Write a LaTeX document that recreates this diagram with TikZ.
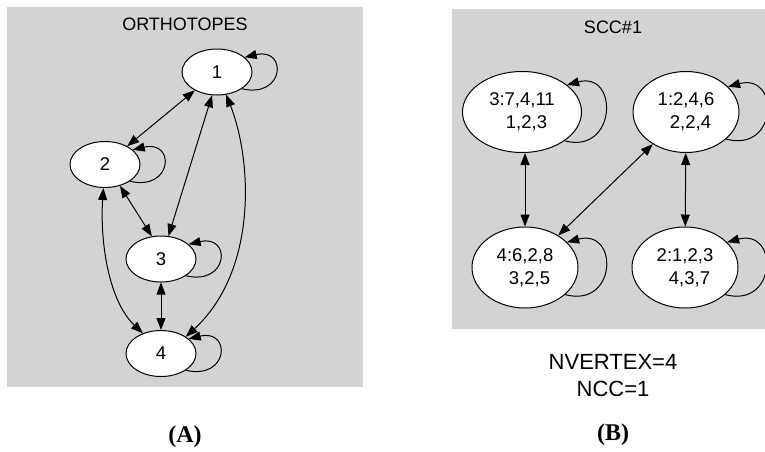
\documentclass[tikz,border=0pt]{standalone}
\usepackage{fontspec}
\setmainfont{Liberation Sans}
\newfontfamily\capserif{Liberation Serif}
\usetikzlibrary{arrows.meta,shapes.geometric}
\definecolor{panelgray}{RGB}{211,211,211}
\tikzset{
  tip/.tip={Triangle[length=12pt,width=9pt]},
  vtx/.style={ellipse,draw,fill=white,line width=1pt,inner sep=0pt,
     minimum width=70pt,minimum height=46pt,font=\fontsize{18.5}{23}\selectfont,align=center},
  bigvtx/.style={vtx,minimum width=106pt,minimum height=81pt},
  arr/.style={line width=1pt,-tip},
  dbl/.style={line width=1pt,tip-tip},
  title/.style={font=\fontsize{18}{22}\selectfont},
  capt/.style={font=\fontsize{22}{27}\selectfont,align=center},
  sub/.style={font=\capserif\bfseries\fontsize{24}{28}\selectfont}
}
\newcommand{\sndline}[1]{\hspace*{9pt}#1}
\begin{document}
\begin{tikzpicture}[x=1pt,y=-1pt]
\useasboundingbox (0,0) rectangle (765,451);
\fill[panelgray] (7,7) rectangle (363,387);
\fill[panelgray] (452,9) rectangle (765,329);
\node[title] (tA) at (185,24) {ORTHOTOPES};
\node[title] (tB) at (613,27) {SCC\#1};
% left graph
\node[vtx] (n1) at (217,72) {1};
\node[vtx] (n2) at (105,164.5) {2};
\node[vtx] (n3) at (161,259) {3};
\node[vtx] (n4) at (161,353.5) {4};
\draw[dbl] (n1) -- (n2);
\draw[dbl] (n1.-102) -- (n3.72);
\draw[dbl] (n2.-55) -- (n3.112);
\draw[dbl] (n3) -- (n4);
\draw[dbl] (n1.-68) .. controls (252,160) and (258,270) .. (n4.34);
\draw[dbl] (n2.-94) .. controls (100,240) and (108,300) .. (n4.132);
\draw[arr] (n1.-34) .. controls +(43,10) and +(43,-10) .. (n1.28);
\draw[arr] (n2.-34) .. controls +(43,10) and +(43,-10) .. (n2.28);
\draw[arr] (n3.-34) .. controls +(43,10) and +(43,-10) .. (n3.28);
\draw[arr] (n4.-34) .. controls +(43,10) and +(43,-10) .. (n4.28);
% right graph
\node[bigvtx,minimum width=119pt] (m3) at (522,112) {3:7,4,11\\ \sndline{1,2,3}};
\node[bigvtx] (m1) at (686,112) {1:2,4,6\\ \sndline{2,2,4}};
\node[bigvtx] (m4) at (525,267.5) {4:6,2,8\\ \sndline{3,2,5}};
\node[bigvtx] (m2) at (685,267.5) {2:1,2,3\\ \sndline{4,3,7}};
\draw[dbl] (m3.south -| m4) -- (m4);
\draw[dbl] (m1) -- (m4);
\draw[dbl] (m1) -- (m2);
\draw[arr] (m3.-34) .. controls +(52,14) and +(52,-14) .. (m3.31);
\draw[arr] (m1.-34) .. controls +(52,14) and +(52,-14) .. (m1.31);
\draw[arr] (m4.-34) .. controls +(52,14) and +(52,-14) .. (m4.31);
\draw[arr] (m2.-34) .. controls +(52,14) and +(52,-14) .. (m2.31);
\node[capt] (cap) at (613,375.5) {NVERTEX=4\\NCC=1};
\node[sub] (la) at (185,437) {(A)};
\node[sub] (lb) at (613,435) {(B)};
\end{tikzpicture}
\end{document}
